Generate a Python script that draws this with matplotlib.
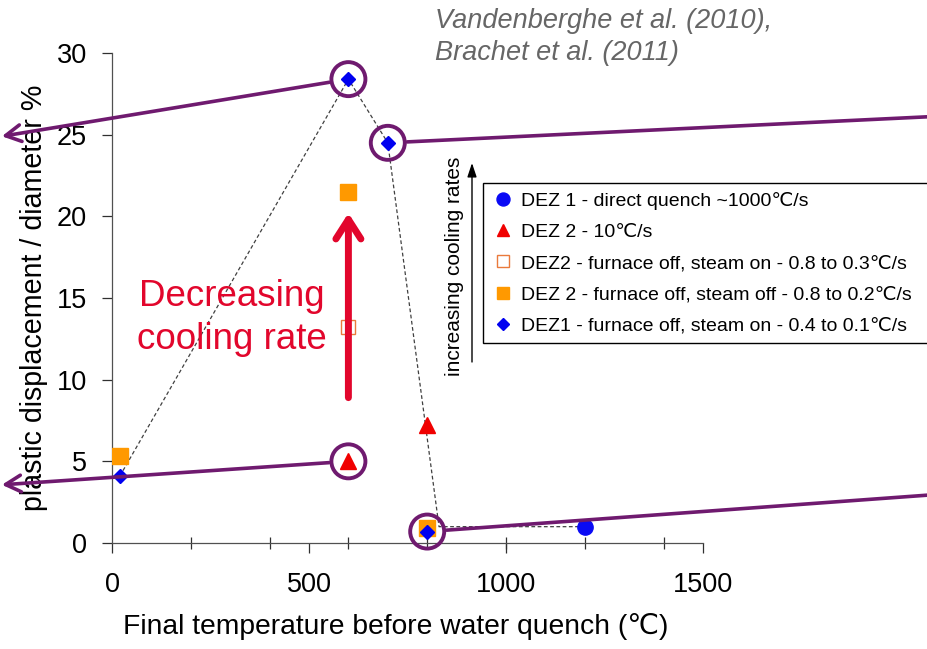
import matplotlib
matplotlib.use('Agg')
import matplotlib.pyplot as plt
from matplotlib.ticker import FixedLocator

plt.rcParams['font.family'] = ['Liberation Sans', 'DejaVu Sans']

# valores
quench_x = [1200]
quench_y = [1.0]
dez2_fast_x = [600, 800]
dez2_fast_y = [5.0, 7.2]
steam_on_x = [600]
steam_on_y = [13.2]
steam_off_x = [20, 600, 800]
steam_off_y = [5.3, 21.5, 0.9]
dez1_x = [20, 600, 700, 800]
dez1_y = [4.1, 28.4, 24.5, 0.7]

# linea de tendencia punteada
trend_x = [20, 600, 700, 830, 1200]
trend_y = [4.1, 28.4, 24.5, 1.0, 1.0]

# puntos marcados con circulo morado
circle_x = [600, 700, 600, 800]
circle_y = [28.4, 24.5, 5.0, 0.7]

labels = ['DEZ 1 - direct quench ~1000\u2103/s',
          'DEZ 2 - 10\u2103/s',
          'DEZ2 - furnace off, steam on - 0.8 to 0.3\u2103/s',
          'DEZ 2 - furnace off, steam off - 0.8 to 0.2\u2103/s',
          'DEZ1 - furnace off, steam on - 0.4 to 0.1\u2103/s']

purple = '#6F1A6F'
red = '#E2062C'

fig = plt.figure(figsize=(9.27, 6.49), dpi=100)
ax = fig.add_axes([112/927, 1-543/649, 591/927, 490/649])

ax.plot(trend_x, trend_y, color='#404040', lw=0.9, dashes=(3, 2), zorder=2)

ax.plot(quench_x, quench_y, 'o', ms=11, color='#0A0AF5', label=labels[0], zorder=3)
ax.plot(dez2_fast_x, dez2_fast_y, '^', ms=11, color='#F00000', label=labels[1], zorder=3)
ax.plot(steam_on_x, steam_on_y, 's', ms=10, mfc='white', mec='#EA7A3C', mew=1.0,
        label=labels[2], zorder=3)
ax.plot(steam_off_x, steam_off_y, 's', ms=11, color='#FF9900', label=labels[3], zorder=3)
ax.plot(dez1_x, dez1_y, 'D', ms=7, color='#0000F0', label=labels[4], zorder=4)

ax.set_xlim(0, 1500)
ax.set_ylim(0, 30)
ax.spines['top'].set_visible(False)
ax.spines['right'].set_visible(False)
for s in ['left', 'bottom']:
    ax.spines[s].set_color('#505050')
    ax.spines[s].set_linewidth(0.9)

ax.set_xticks([0, 500, 1000, 1500])
ax.set_yticks([0, 5, 10, 15, 20, 25, 30])
ax.xaxis.set_minor_locator(FixedLocator([200, 400, 600, 800, 1000, 1200, 1400]))
ax.xaxis.remove_overlapping_locs = False
ax.tick_params(axis='both', which='major', direction='out', length=7, width=0.9,
               color='#303030', labelsize=19.5, pad=11)
ax.tick_params(axis='x', which='major', pad=14)
ax.tick_params(axis='x', which='minor', direction='inout', length=9, width=0.9,
               color='#303030')

ax.set_xlabel('Final temperature before water quench (\u2103)', fontsize=20.3)
ax.set_ylabel('plastic displacement / diameter %', fontsize=20.6)
ax.xaxis.set_label_coords(0.48, -0.143)
ax.yaxis.set_label_coords(-0.108, 0.5)

leg = ax.legend(loc='upper left', bbox_to_anchor=(483/927, 1-341/649, 0.5, 158/649),
                bbox_transform=fig.transFigure, mode='expand', borderaxespad=0,
                fontsize=14, markerscale=0.85, handlelength=1.2, handletextpad=0.3,
                borderpad=0.45, labelspacing=0.7, fancybox=False, framealpha=1)
leg.get_frame().set_edgecolor('black')
leg.get_frame().set_linewidth(1.0)

# flecha vertical "increasing cooling rates"
ax.annotate('', xy=(472/927, 1-163/649), xytext=(472/927, 1-362/649),
            xycoords='figure fraction', textcoords='figure fraction',
            arrowprops=dict(arrowstyle='-|>,head_length=0.6,head_width=0.2',
                            color='black', lw=1.0, shrinkA=0, shrinkB=0,
                            mutation_scale=14))
fig.text(455/927, 1-266/649, 'increasing cooling rates', rotation=90,
         ha='center', va='center', fontsize=15)

# flecha roja
ax.annotate('', xy=(600, 20.2), xytext=(600, 8.9),
            arrowprops=dict(arrowstyle='->,head_length=0.7,head_width=0.45',
                            color=red, lw=5, shrinkA=0, shrinkB=0, mutation_scale=20))
ax.text(305, 13.8, 'Decreasing\ncooling rate', color=red, fontsize=26.5,
        ha='center', va='center', linespacing=1.3)

fig.text(435/927, 1-8/649, 'Vandenberghe et al. (2010),\nBrachet et al. (2011)',
         ha='left', va='top', fontsize=19.5, style='italic', color='#666666',
         linespacing=1.3)

# circulos y lineas moradas
ax.scatter(circle_x, circle_y, s=600, facecolors='none', edgecolors=purple,
           linewidths=2.8, zorder=6, clip_on=False)
targets = [(0.002, 0.790), (1.0, 0.820), (0.002, 0.253), (1.0, 0.237)]
heads = ['->,head_length=0.55,head_width=0.3', '-', '->,head_length=0.55,head_width=0.3', '-']
for cx, cy, tgt, hd in zip(circle_x, circle_y, targets, heads):
    ax.annotate('', xy=tgt, xycoords='figure fraction', xytext=(cx, cy),
                textcoords='data', annotation_clip=False,
                arrowprops=dict(arrowstyle=hd, color=purple, lw=2.6, shrinkA=14,
                                shrinkB=0, mutation_scale=20), zorder=6)

fig.savefig('out.png', dpi=100)
